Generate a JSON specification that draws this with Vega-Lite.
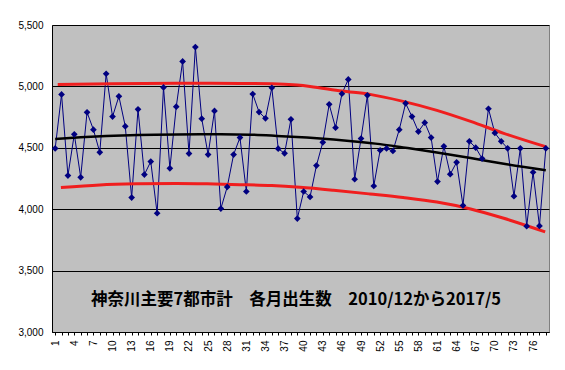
{
  "$schema": "https://vega.github.io/schema/vega-lite/v6.json",
  "width": 497,
  "height": 307,
  "autosize": "none",
  "padding": {"left": 52, "top": 25, "right": 16, "bottom": 38},
  "background": "white",
  "config": {
    "view": {"fill": "#C0C0C0", "stroke": "#808080", "strokeWidth": 1},
    "font": "Liberation Sans"
  },
  "datasets": {
    "births": [
      {"i": 1, "v": 4495}, {"i": 2, "v": 4935}, {"i": 3, "v": 4274}, {"i": 4, "v": 4610}, {"i": 5, "v": 4260},
      {"i": 6, "v": 4789}, {"i": 7, "v": 4648}, {"i": 8, "v": 4463}, {"i": 9, "v": 5103}, {"i": 10, "v": 4754},
      {"i": 11, "v": 4919}, {"i": 12, "v": 4675}, {"i": 13, "v": 4095}, {"i": 14, "v": 4813}, {"i": 15, "v": 4282},
      {"i": 16, "v": 4388}, {"i": 17, "v": 3967}, {"i": 18, "v": 4992}, {"i": 19, "v": 4333}, {"i": 20, "v": 4835},
      {"i": 21, "v": 5203}, {"i": 22, "v": 4453}, {"i": 23, "v": 5320}, {"i": 24, "v": 4737}, {"i": 25, "v": 4445},
      {"i": 26, "v": 4800}, {"i": 27, "v": 4005}, {"i": 28, "v": 4181}, {"i": 29, "v": 4445}, {"i": 30, "v": 4583},
      {"i": 31, "v": 4144}, {"i": 32, "v": 4938}, {"i": 33, "v": 4791}, {"i": 34, "v": 4740}, {"i": 35, "v": 4989},
      {"i": 36, "v": 4493}, {"i": 37, "v": 4455}, {"i": 38, "v": 4732}, {"i": 39, "v": 3924}, {"i": 40, "v": 4144},
      {"i": 41, "v": 4100}, {"i": 42, "v": 4355}, {"i": 43, "v": 4545}, {"i": 44, "v": 4854}, {"i": 45, "v": 4664},
      {"i": 46, "v": 4940}, {"i": 47, "v": 5057}, {"i": 48, "v": 4244}, {"i": 49, "v": 4575}, {"i": 50, "v": 4927},
      {"i": 51, "v": 4189}, {"i": 52, "v": 4480}, {"i": 53, "v": 4495}, {"i": 54, "v": 4474}, {"i": 55, "v": 4648},
      {"i": 56, "v": 4862}, {"i": 57, "v": 4754}, {"i": 58, "v": 4632}, {"i": 59, "v": 4705}, {"i": 60, "v": 4583},
      {"i": 61, "v": 4225}, {"i": 62, "v": 4512}, {"i": 63, "v": 4285}, {"i": 64, "v": 4382}, {"i": 65, "v": 4030},
      {"i": 66, "v": 4553}, {"i": 67, "v": 4501}, {"i": 68, "v": 4412}, {"i": 69, "v": 4818}, {"i": 70, "v": 4621},
      {"i": 71, "v": 4553}, {"i": 72, "v": 4496}, {"i": 73, "v": 4106}, {"i": 74, "v": 4496}, {"i": 75, "v": 3862},
      {"i": 76, "v": 4301}, {"i": 77, "v": 3864}, {"i": 78, "v": 4496}
    ],
    "upper": [
      {"i": 1.4, "v": 5015}, {"i": 10, "v": 5022}, {"i": 20, "v": 5025}, {"i": 30, "v": 5024}, {"i": 35, "v": 5022},
      {"i": 39, "v": 5011}, {"i": 41, "v": 5000}, {"i": 46, "v": 4962}, {"i": 50.4, "v": 4935}, {"i": 55.6, "v": 4878},
      {"i": 60.9, "v": 4805}, {"i": 66.2, "v": 4715}, {"i": 71.4, "v": 4618}, {"i": 78.1, "v": 4507}
    ],
    "lower": [
      {"i": 1.9, "v": 4176}, {"i": 8, "v": 4198}, {"i": 14, "v": 4207}, {"i": 20, "v": 4210}, {"i": 26, "v": 4205},
      {"i": 30, "v": 4200}, {"i": 35, "v": 4192}, {"i": 39.4, "v": 4178}, {"i": 44.7, "v": 4154}, {"i": 50.4, "v": 4124},
      {"i": 55.6, "v": 4095}, {"i": 60.9, "v": 4058}, {"i": 66.2, "v": 4002}, {"i": 71.4, "v": 3926}, {"i": 77.9, "v": 3815}
    ],
    "trend": [
      {"i": 1, "v": 4572}, {"i": 5, "v": 4585}, {"i": 9, "v": 4596}, {"i": 14, "v": 4605}, {"i": 20, "v": 4609},
      {"i": 27, "v": 4610}, {"i": 31.6, "v": 4607}, {"i": 35.8, "v": 4597}, {"i": 40.5, "v": 4583}, {"i": 44.7, "v": 4567},
      {"i": 48, "v": 4552}, {"i": 52, "v": 4530}, {"i": 55.6, "v": 4503}, {"i": 60.9, "v": 4462}, {"i": 66.2, "v": 4417},
      {"i": 71.4, "v": 4370}, {"i": 78, "v": 4317}
    ],
    "label": [
      {"i": 38.8, "v": 3262, "t": "神奈川主要7都市計　各月出生数　2010/12から2017/5"}
    ]
  },
  "encoding": {
    "x": {
      "field": "i", "type": "quantitative",
      "scale": {"domain": [0.5, 78.5], "nice": false, "zero": false},
      "axis": {
        "title": null,
        "values": [1,2,3,4,5,6,7,8,9,10,11,12,13,14,15,16,17,18,19,20,21,22,23,24,25,26,27,28,29,30,31,32,33,34,35,36,37,38,39,40,41,42,43,44,45,46,47,48,49,50,51,52,53,54,55,56,57,58,59,60,61,62,63,64,65,66,67,68,69,70,71,72,73,74,75,76,77,78],
        "labelExpr": "(datum.value - 1) % 3 == 0 ? datum.label : ''",
        "labelOverlap": false,
        "labelAngle": -90,
        "labelFontSize": 10,
        "labelColor": "black",
        "labelPadding": 5,
        "tickSize": 3,
        "tickColor": "black",
        "domainColor": "black",
        "grid": false
      }
    },
    "y": {
      "field": "v", "type": "quantitative",
      "scale": {"domain": [3000, 5500], "nice": false, "zero": false},
      "axis": {
        "title": null,
        "values": [3000, 3500, 4000, 4500, 5000, 5500],
        "format": ",.0f",
        "labelFontSize": 10,
        "labelColor": "black",
        "labelPadding": 9,
        "ticks": false,
        "domainColor": "black",
        "grid": true,
        "gridColor": "black",
        "gridOpacity": 1,
        "gridWidth": 1
      }
    }
  },
  "layer": [
    {
      "data": {"name": "births"},
      "mark": {"type": "line", "color": "#000080", "strokeWidth": 1}
    },
    {
      "data": {"name": "upper"},
      "mark": {"type": "line", "color": "#F01E1E", "strokeWidth": 3, "interpolate": "monotone"}
    },
    {
      "data": {"name": "lower"},
      "mark": {"type": "line", "color": "#F01E1E", "strokeWidth": 3, "interpolate": "monotone"}
    },
    {
      "data": {"name": "trend"},
      "mark": {"type": "line", "color": "black", "strokeWidth": 2.5, "interpolate": "monotone"}
    },
    {
      "data": {"name": "births"},
      "mark": {"type": "point", "shape": "diamond", "filled": true, "color": "#000080", "size": 45, "opacity": 1}
    },
    {
      "data": {"name": "label"},
      "mark": {"type": "text", "font": "Noto Sans CJK JP", "fontWeight": "bold", "fontSize": 16.5, "color": "black", "align": "center", "baseline": "middle"},
      "encoding": {"text": {"field": "t"}}
    }
  ]
}
